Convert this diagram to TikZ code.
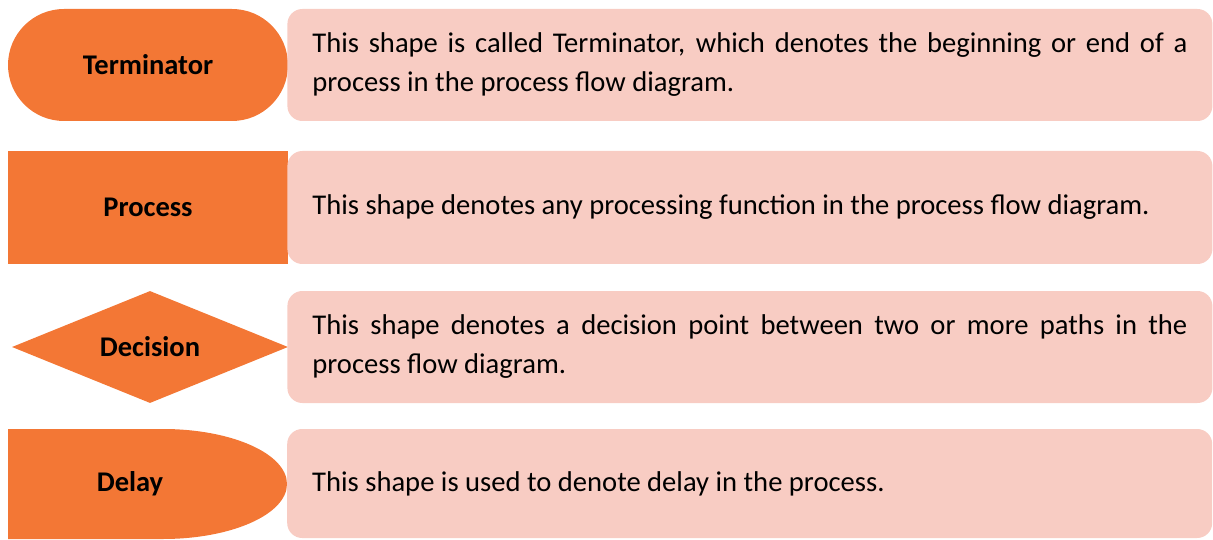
\documentclass[tikz,border=0pt]{standalone}
\usepackage{fontspec}
\setmainfont{Carlito}
\usepackage{xcolor}
\definecolor{shapeorange}{RGB}{243,119,53}
\definecolor{descpink}{RGB}{248,204,195}
\usepackage{tikz}
\usetikzlibrary{positioning, shapes.geometric, shapes.misc}

\begin{document}
\begin{tikzpicture}[x=1pt, y=1pt,
    symbol/.style={fill=shapeorange, inner sep=0pt, minimum width=280pt,
      minimum height=112pt, font=\fontsize{28.5}{32}\selectfont\bfseries},
    desc/.style={fill=descpink, rounded corners=15pt, inner xsep=25pt,
      inner ysep=0pt, text width=875pt, minimum height=112pt, align=justify,
      font={\fontsize{28.6}{39}\selectfont\hyphenpenalty10000\relax}},
    delaysymbol/.style={symbol, fill=none, path picture={
      \fill[shapeorange] (path picture bounding box.south west)
        -- (path picture bounding box.north west) -- ++(155,0)
        arc[start angle=90, end angle=-90, x radius=124, y radius=55]
        -- cycle;}}
]
\useasboundingbox (0,0) rectangle (1213,539);

%% Terminator
\node[symbol, rounded rectangle] (term) at (148,474) {Terminator};
\node[desc, right=-1pt of term] (termdesc)
  {This shape is called Terminator, which denotes the beginning or end of a process in the process flow diagram.};

%% Process
\node[symbol, rectangle, minimum height=113pt] (proc) at (148,331.5) {Process};
\node[desc, right=-1pt of proc, minimum height=113pt] (procdesc)
  {This shape denotes any processing function in the process flow diagram.};

%% Decision
\node[symbol, diamond, aspect=2.46, minimum width=276pt] (dec) at (150,192) {Decision};
\node[desc, right=-1pt of dec] (decdesc)
  {This shape denotes a decision point between two or more paths in the process flow diagram.};

%% Delay
\node[delaysymbol, minimum width=279pt, minimum height=110pt] (delay) at (147.5,55) {};
\node[font=\fontsize{28.5}{32}\selectfont\bfseries] (delaylbl) at (130,55) {Delay};
\node[desc, minimum height=109pt, anchor=west] (delaydesc) at (287,55.5)
  {This shape is used to denote delay in the process.};
\end{tikzpicture}
\end{document}
